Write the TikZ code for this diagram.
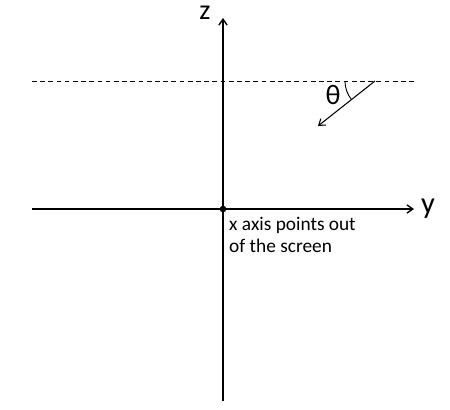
\documentclass[tikz,border=0pt]{standalone}
\usepackage{fontspec}
\setmainfont{Carlito}
\usetikzlibrary{arrows.meta}
\begin{document}
\begin{tikzpicture}[x=0.03cm,y=-0.03cm,
    axis/.style={line width=1.2pt,-{Straight Barb[length=5pt,width=7pt]}},
    beam/.style={line width=0.9pt,-{Straight Barb[length=5pt,width=7pt]}}]
    \useasboundingbox (0,0) rectangle (450,409);

    % axes
    \coordinate (O) at (223,209);
    \coordinate (zbot) at (223,401);
    \coordinate (ztop) at (223,18);
    \coordinate (yleft) at (32,209);
    \coordinate (yright) at (414,209);
    \draw[axis] (zbot) -- (ztop);
    \draw[axis] (yleft) -- (yright);
    \fill (O) circle (0.1cm);

    \node (zlab) at (205,13) {\fontsize{24}{24}\selectfont z};
    \node (ylab) at (428,209) {\fontsize{26}{26}\selectfont y};
    \node[anchor=north west,align=left,inner sep=0pt,font=\fontsize{16.5}{18.5}\selectfont] (xlab) at (229,217)
        {x axis points out\\of the screen};

    % surface and incoming direction
    \coordinate (dleft) at (32,81);
    \coordinate (dright) at (415,81);
    \draw[line width=0.8pt,dash pattern=on 4pt off 3pt] (dleft) -- (dright);
    \coordinate (hit) at (375,81);
    \coordinate (tail) at (318,126);
    \draw[beam] (hit) -- (tail);
    \draw[line width=0.8pt] (hit) ++(180:30) arc[start angle=180,end angle=142,radius=30];
    \node (theta) at (333,95) {\fontsize{24}{24}\selectfont θ};
\end{tikzpicture}
\end{document}
